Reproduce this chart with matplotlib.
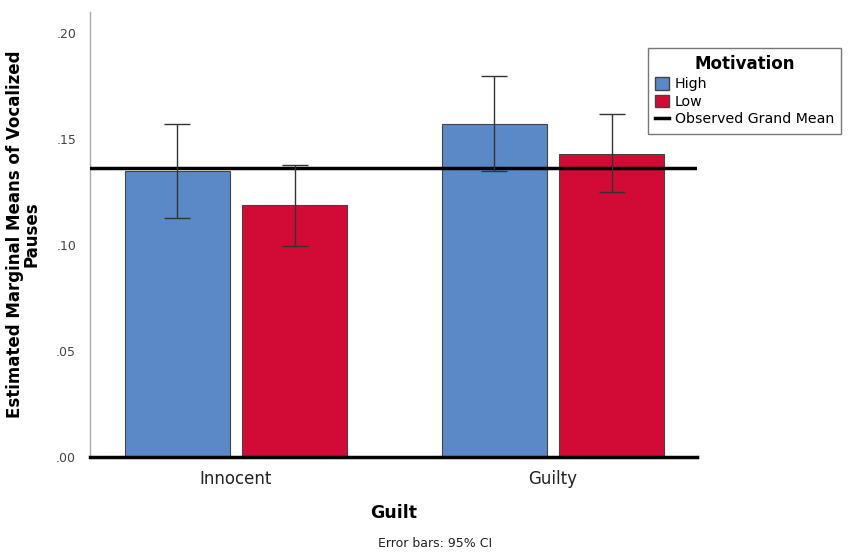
import numpy as np
import matplotlib
matplotlib.use("Agg")
import matplotlib.pyplot as plt
from matplotlib.patches import Patch
from matplotlib.lines import Line2D

groups = ["Innocent", "Guilty"]
high_mean = [0.135, 0.157]
high_lo = [0.113, 0.135]
high_hi = [0.157, 0.180]
low_mean = [0.119, 0.143]
low_lo = [0.0995, 0.125]
low_hi = [0.138, 0.162]
grand_mean = 0.1365
yticks = [0.0, 0.05, 0.10, 0.15, 0.20]
ytick_labels = [".00", ".05", ".10", ".15", ".20"]

blue = "#5b88c6"
red = "#d20b36"

fig = plt.figure(figsize=(8.49, 5.54), dpi=100)
ax = fig.add_axes([0.106, 0.175, 0.715, 0.803])

x = np.arange(len(groups))
w = 0.331
off = 0.185

hm = np.array(high_mean)
lm = np.array(low_mean)
ax.bar(x - off, hm, w, color=blue, edgecolor="#444444", linewidth=0.8, zorder=2)
ax.bar(x + off, lm, w, color=red, edgecolor="#444444", linewidth=0.8, zorder=2)
ax.errorbar(x - off, hm, yerr=[hm - np.array(high_lo), np.array(high_hi) - hm],
            fmt="none", ecolor="#333333", elinewidth=1, capsize=9.5, capthick=1, zorder=4)
ax.errorbar(x + off, lm, yerr=[lm - np.array(low_lo), np.array(low_hi) - lm],
            fmt="none", ecolor="#333333", elinewidth=1, capsize=9.5, capthick=1, zorder=4)

ax.axhline(grand_mean, color="black", linewidth=2.5, zorder=3)
ax.axhline(0, color="black", linewidth=2.5, zorder=3, clip_on=False)

ax.set_xlim(-0.46, 1.454)
ax.set_ylim(0, 0.21)
ax.set_yticks(yticks)
ax.set_yticklabels(ytick_labels, color="#444444", fontsize=9)
ax.set_xticks(x)
ax.set_xticklabels(groups, fontsize=12, color="#222222")
ax.tick_params(axis="both", length=0)
ax.tick_params(axis="x", pad=9)
ax.tick_params(axis="y", pad=10)

for s in ["top", "right", "bottom"]:
    ax.spines[s].set_visible(False)
ax.spines["left"].set_color("#aaaaaa")
ax.spines["left"].set_linewidth(1)

ax.set_ylabel("Estimated Marginal Means of Vocalized\nPauses", fontsize=12,
              fontweight="bold", linespacing=0.95, labelpad=11)
ax.set_xlabel("Guilt", fontsize=12.5, fontweight="bold", labelpad=12)

handles = [Patch(facecolor=blue, edgecolor="#444444", label="High"),
           Patch(facecolor=red, edgecolor="#444444", label="Low"),
           Line2D([0], [0], color="black", linewidth=2.5, label="Observed Grand Mean")]
leg = fig.legend(handles=handles, title="Motivation", loc="upper left",
                 bbox_to_anchor=(0.763, 0.913), fontsize=10.2, frameon=True,
                 fancybox=False, edgecolor="#555555", handlelength=1.0,
                 handleheight=1.0, handletextpad=0.4, borderpad=0.5,
                 labelspacing=0.25, borderaxespad=0)
leg.get_title().set_fontweight("bold")
leg.get_title().set_fontsize(12)

fig.text(0.512, 0.008, "Error bars: 95% CI", ha="center", va="bottom", fontsize=9,
         color="#222222")

fig.savefig("out.png", dpi=100)
